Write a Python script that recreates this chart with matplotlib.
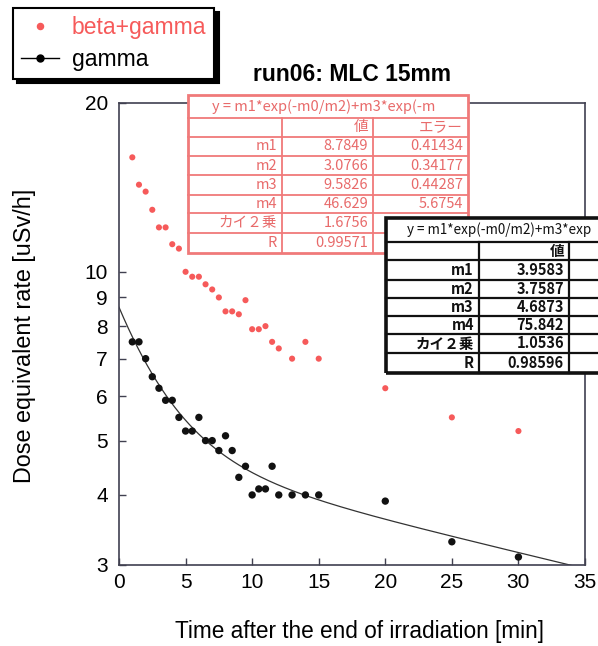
import matplotlib
matplotlib.use("Agg")
import matplotlib.pyplot as plt
import numpy as np
from matplotlib.patches import Rectangle
from matplotlib.lines import Line2D

# ---------------- data ----------------
t_gamma = [1, 1.5, 2, 2.5, 3, 3.5, 4, 4.5, 5, 5.5, 6, 6.5, 7, 7.5, 8, 8.5, 9, 9.5,
           10, 10.5, 11, 11.5, 12, 13, 14, 15, 20, 25, 30]
y_gamma = [7.5, 7.5, 7.0, 6.5, 6.2, 5.9, 5.9, 5.5, 5.2, 5.2, 5.5, 5.0, 5.0, 4.8, 5.1, 4.8, 4.3, 4.5,
           4.0, 4.1, 4.1, 4.5, 4.0, 4.0, 4.0, 4.0, 3.9, 3.3, 3.1]

t_beta = [1, 1.5, 2, 2.5, 3, 3.5, 4, 4.5, 5, 5.5, 6, 6.5, 7, 7.5, 8, 8.5, 9, 9.5,
          10, 10.5, 11, 11.5, 12, 13, 14, 15, 20, 25, 30]
y_beta = [16.0, 14.3, 13.9, 12.9, 12.0, 12.0, 11.2, 11.0, 10.0, 9.8, 9.8, 9.5, 9.3, 9.0, 8.5, 8.5, 8.4, 8.9,
          7.9, 7.9, 8.0, 7.5, 7.3, 7.0, 7.5, 7.0, 6.2, 5.5, 5.2]

# fit parameters (gamma)
fit_m1, fit_m2, fit_m3, fit_m4 = 3.9583, 3.7587, 4.6873, 75.842

title = "run06: MLC 15mm"
xlabel = "Time after the end of irradiation [min]"
ylabel = "Dose equivalent rate [uSv/h]"
legend_labels = ["beta+gamma", "gamma"]
xticks = [0, 5, 10, 15, 20, 25, 30, 35]
yticks = [3, 4, 5, 6, 7, 8, 9, 10, 20]

red_formula = "y = m1*exp(-m0/m2)+m3*exp(-m"
black_formula = "y = m1*exp(-m0/m2)+m3*exp"
row_names = ["m1", "m2", "m3", "m4", "カイ２乗", "R"]
red_values = ["8.7849", "3.0766", "9.5826", "46.629", "1.6756", "0.99571"]
red_errors = ["0.41434", "0.34177", "0.44287", "5.6754", "", ""]
black_values = ["3.9583", "3.7587", "4.6873", "75.842", "1.0536", "0.98596"]
hdr_value = "値"
hdr_error = "エラー"

RED = "#f65a5a"
RED_TAB = "#f07a7a"
RED_TXT = "#e86a6a"

W, H = 598, 646
def fx(px): return px / W
def fy(py): return 1 - py / H

plt.rcParams['font.family'] = ['Liberation Sans', 'DejaVu Sans']

fig = plt.figure(figsize=(W / 100, H / 100), dpi=100)
ax = fig.add_axes([fx(119), fy(565), (585 - 119) / W, (565 - 103) / H])

ax.set_yscale('log')
ax.set_xlim(0, 35)
ax.set_ylim(3, 20)

ax.scatter(t_beta, y_beta, s=4.4 ** 2, color=RED, edgecolors='none', zorder=3)
ax.scatter(t_gamma, y_gamma, s=5.3 ** 2, color='#111111', edgecolors='none', zorder=3)
xf = np.linspace(0, 35, 400)
yf = fit_m1 * np.exp(-xf / fit_m2) + fit_m3 * np.exp(-xf / fit_m4)
ax.plot(xf, yf, color='#333333', lw=0.9, zorder=2)

ax.set_xticks(xticks)
ax.set_xticklabels([str(v) for v in xticks])
ax.yaxis.set_major_locator(matplotlib.ticker.FixedLocator(yticks))
ax.yaxis.set_minor_locator(matplotlib.ticker.NullLocator())
ax.yaxis.set_major_formatter(matplotlib.ticker.FixedFormatter([str(v) for v in yticks]))
ax.tick_params(direction='in', length=5, width=1, labelsize=15, color='#404050')
ax.tick_params(axis='x', pad=6)
ax.tick_params(axis='y', pad=8)
for s in ax.spines.values():
    s.set_color('#404050')
    s.set_linewidth(1.2)

ax.set_title(title, fontsize=16.5, fontweight='bold', pad=16)
ax.set_xlabel(xlabel, fontsize=16.3)
ax.xaxis.set_label_coords(0.517, -0.118)
ax.set_ylabel(ylabel, fontsize=16.8)
ax.yaxis.set_label_coords(-0.178, 0.497)

# ---------------- legend ----------------
handles = [Line2D([], [], ls='none', marker='o', ms=4.4, color=RED),
           Line2D([], [], color='black', marker='o', ms=5, lw=1)]
leg = fig.legend(handles, legend_labels, loc='upper left',
                 bbox_to_anchor=(fx(13), fy(8)), borderaxespad=0,
                 fontsize=16.5, frameon=True, fancybox=False,
                 shadow={'ox': 3, 'oy': -3, 'color': 'black', 'alpha': 1},
                 handlelength=1.65, handletextpad=0.55, labelspacing=0.38,
                 borderpad=0.36)
leg.get_frame().set_edgecolor('black')
leg.get_frame().set_linewidth(1.5)
leg.get_texts()[0].set_color(RED)

# ---------------- tables ----------------
TFONT = ['Noto Sans CJK JP', 'DejaVu Sans']

def draw_table(cols, rows, color, lw_out, lw_in, txtcolor, weight, z, formula, fsize_title,
               vals, errs, title_x):
    x0, x1 = cols[0], cols[-1]
    y0, y1 = rows[0], rows[-1]
    bg = Rectangle((fx(x0), fy(y1)), fx(x1) - fx(x0), fy(y0) - fy(y1),
                   transform=fig.transFigure, facecolor='white', edgecolor='none', zorder=z)
    fig.patches.append(bg)
    for yy in rows[1:-1]:
        fig.add_artist(Line2D([fx(x0), fx(x1)], [fy(yy), fy(yy)], color=color,
                              lw=lw_in, zorder=z + 0.1, transform=fig.transFigure))
    for xx in cols[1:-1]:
        fig.add_artist(Line2D([fx(xx), fx(xx)], [fy(rows[1]), fy(y1)], color=color,
                              lw=lw_in, zorder=z + 0.1, transform=fig.transFigure))
    border = Rectangle((fx(x0), fy(y1)), fx(x1) - fx(x0), fy(y0) - fy(y1),
                       transform=fig.transFigure, facecolor='none', edgecolor=color,
                       lw=lw_out, zorder=z + 0.2)
    fig.patches.append(border)
    fig.text(fx(title_x), fy((rows[0] + rows[1]) / 2), formula, fontsize=fsize_title,
             family=TFONT, color=txtcolor, fontweight='normal', ha='left', va='center',
             zorder=z + 0.3)
    # header row
    yc = fy((rows[1] + rows[2]) / 2)
    fig.text(fx(cols[2] - 5), yc, hdr_value, fontsize=10.5, family=TFONT, color=txtcolor,
             fontweight=weight, ha='right', va='center', zorder=z + 0.3)
    if errs is not None:
        fig.text(fx(cols[3] - 5), yc, hdr_error, fontsize=10.5, family=TFONT, color=txtcolor,
                 fontweight=weight, ha='right', va='center', zorder=z + 0.3)
    for i, name in enumerate(row_names):
        yc = fy((rows[i + 2] + rows[i + 3]) / 2)
        fig.text(fx(cols[1] - 5), yc, name, fontsize=10.5, family=TFONT, color=txtcolor,
                 fontweight=weight, ha='right', va='center', zorder=z + 0.3)
        fig.text(fx(cols[2] - 5), yc, vals[i], fontsize=10.5, family=TFONT, color=txtcolor,
                 fontweight=weight, ha='right', va='center', zorder=z + 0.3)
        if errs is not None and errs[i]:
            fig.text(fx(cols[3] - 5), yc, errs[i], fontsize=10.5, family=TFONT, color=txtcolor,
                     fontweight=weight, ha='right', va='center', zorder=z + 0.3)

draw_table([188, 282, 373, 468], [95, 118, 137, 156, 175, 195, 213, 233, 253],
           RED_TAB, 2.0, 1.3, RED_TXT, 'normal', 5, red_formula, 10.5,
           red_values, red_errors, 212)
draw_table([386, 479, 569, 680], [218, 242, 260, 280, 298, 316, 334, 353, 373],
           '#111111', 2.6, 1.6, '#111111', 'bold', 8, black_formula, 9.7,
           black_values, None, 407)

fig.savefig("out.png", dpi=100)
